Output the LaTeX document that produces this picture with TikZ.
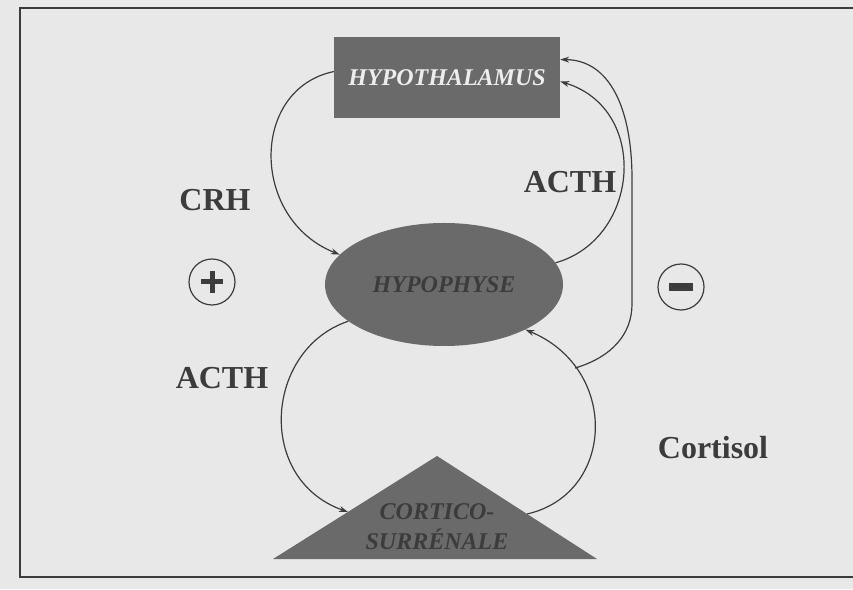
\documentclass[tikz,border=0pt]{standalone}
\usepackage{fontspec}
\setmainfont{Liberation Serif}
\usetikzlibrary{arrows.meta,shapes.geometric}
\definecolor{paper}{HTML}{E8E8E8}
\definecolor{organ}{HTML}{6A6A6A}
\definecolor{ink}{HTML}{3C3C3C}
\tikzset{
  organ/.style={fill=organ, draw=none, font=\fontsize{24}{30}\selectfont\bfseries\itshape},
  loop/.style={draw=ink, line width=1.2pt, -{Stealth[length=9pt,width=6pt]}},
  hormone/.style={text=ink, font=\fontsize{32}{36}\selectfont\bfseries},
  sign/.style={circle, draw=ink, line width=1.2pt, minimum size=46pt, inner sep=0pt},
}
\begin{document}
\begin{tikzpicture}[x=1pt,y=1pt]
    \useasboundingbox (0,0) rectangle (853,589);
    \fill[paper] (0,0) rectangle (853,589);
    \draw[ink, line width=1.2pt] (853,581) -- (20,581) -- (20,12) -- (853,12);
    \node[organ, rectangle, minimum width=226pt, minimum height=81pt, text=paper!80!white] (hypo) at (447,511.5) {HYPOTHALAMUS};
    \node[organ, ellipse, minimum width=238pt, minimum height=123pt, text=ink] (hyph) at (444,304.5) {HYPOPHYSE};
    \fill[organ] (273,30) -- (437,133) -- (597,30) -- cycle;
    \node[organ, fill=none, align=center, text=ink] (cs) at (437,62) {CORTICO-\\SURRÉNALE};
    \coordinate (csin) at (348,77);
    \coordinate (csout) at (527,75);
    \node[hormone] (crh) at (215,389) {CRH};
    \node[hormone] (acthdown) at (222,211) {ACTH};
    \node[hormone] (acthup) at (570,407) {ACTH};
    \node[hormone] (cortisol) at (713,141) {Cortisol};
    \node[sign] (plus) at (212,307) {};
    \node[sign] (minus) at (681,302) {};
    \draw[ink, line width=5pt] ([xshift=-11pt]plus.center) -- ([xshift=11pt]plus.center);
    \draw[ink, line width=5pt] ([yshift=-11pt]plus.center) -- ([yshift=11pt]plus.center);
    \fill[ink] ([xshift=-12pt,yshift=-4pt]minus.center) rectangle ([xshift=12pt,yshift=4pt]minus.center);
    \draw[loop] (hypo.177) .. controls (250,500) and (250,370) .. (hyph.164);
    \draw[loop] (hyph.11) .. controls (640,350) and (650,480) .. (hypo.358);
    \draw[loop] (hyph.201) .. controls (265,240) and (255,110) .. (csin);
    \draw[loop] (csout) .. controls (615,95) and (620,220) .. (hyph.331) coordinate[pos=0.77] (fork);
    \draw[loop] (fork) .. controls (612,232) and (632,255) .. (632,285) -- (632,410) .. controls (632,480) and (610,529) .. (hypo.9);
\end{tikzpicture}
\end{document}
